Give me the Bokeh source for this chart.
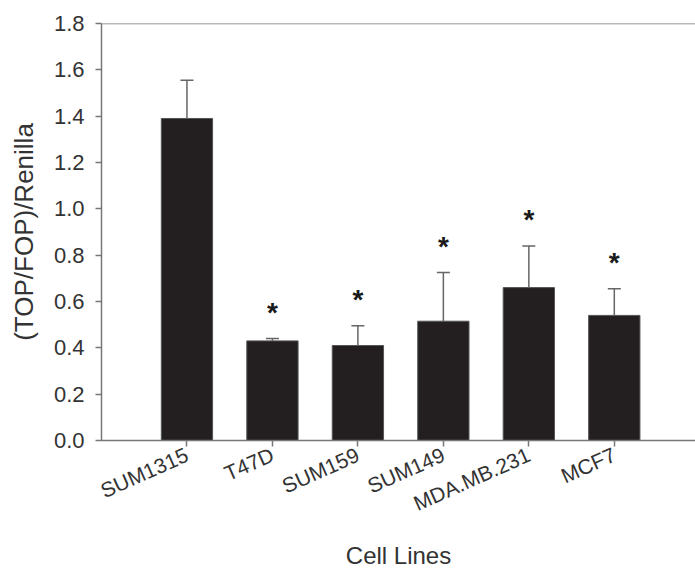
from bokeh.plotting import figure
from bokeh.models import (ColumnDataSource, Whisker, TeeHead, FixedTicker, Range1d,
                          NumeralTickFormatter, Span)
from bokeh.embed import file_html
from bokeh.resources import INLINE
from bokeh.core.properties import value

# ---- data ----
cell_lines = ["SUM1315", "T47D", "SUM159", "SUM149", "MDA.MB.231", "MCF7"]
means = [1.39, 0.43, 0.41, 0.515, 0.66, 0.54]
errors = [0.165, 0.01, 0.085, 0.21, 0.18, 0.115]
significant = [False, True, True, True, True, True]
y_ticks = [0.0, 0.2, 0.4, 0.6, 0.8, 1.0, 1.2, 1.4, 1.6, 1.8]

xs = list(range(1, len(cell_lines) + 1))
upper = [m + e for m, e in zip(means, errors)]
src = ColumnDataSource(dict(x=xs, top=means, upper=upper, label=cell_lines))

sig_x = [x for x, s in zip(xs, significant) if s]
sig_y = [u for u, s in zip(upper, significant) if s]
star_src = ColumnDataSource(dict(x=sig_x, y=sig_y, t=["*"] * len(sig_x)))

FONT = "Liberation Sans"
TXT = "#333333"
AX = "#777777"

p = figure(width=695, height=572, x_range=Range1d(0, 6.95), y_range=Range1d(0, 1.8),
           output_backend="svg", toolbar_location=None,
           min_border_left=101, min_border_right=0, min_border_top=23, min_border_bottom=132)
p.outline_line_color = None
p.grid.visible = False
p.background_fill_color = "white"

p.vbar(x="x", top="top", bottom=0, width=0.6, source=src,
       fill_color="#231f20", line_color="#555555", line_width=1)

wh = Whisker(source=src, base="x", lower="top", upper="upper",
             line_color="#666666", line_width=1.5,
             upper_head=TeeHead(size=13, line_color="#666666", line_width=1.5),
             lower_head=None, level="overlay")
p.add_layout(wh)

p.text(x="x", y="y", text="t", source=star_src, text_align="center",
       text_baseline="alphabetic", y_offset=-26,
       text_font=value(FONT), text_font_style="bold", text_font_size="28px",
       text_color="#1a1a1a")

# top frame line
p.add_layout(Span(location=1.8, dimension="width", line_color=AX, line_width=1.5))

# y axis
ya = p.yaxis[0]
ya.ticker = FixedTicker(ticks=y_ticks)
ya.formatter = NumeralTickFormatter(format="0.0")
ya.axis_label = "(TOP/FOP)/Renilla"
ya.axis_label_text_font = FONT
ya.axis_label_text_font_style = "normal"
ya.axis_label_text_font_size = "26px"
ya.axis_label_text_color = TXT
ya.axis_label_standoff = 12
ya.major_label_text_font = FONT
ya.major_label_text_font_size = "22px"
ya.major_label_text_color = TXT
ya.major_label_standoff = 11
ya.major_tick_in = 0
ya.major_tick_out = 6
ya.minor_tick_line_color = None
ya.axis_line_color = AX
ya.axis_line_width = 1.5
ya.major_tick_line_color = AX
ya.major_tick_line_width = 1.5

# x axis
xa = p.xaxis[0]
xa.ticker = FixedTicker(ticks=xs)
xa.major_label_overrides = {x: l for x, l in zip(xs, cell_lines)}
xa.major_label_orientation = 0.42
xa.axis_label = "Cell Lines"
xa.axis_label_text_font = FONT
xa.axis_label_text_font_style = "normal"
xa.axis_label_text_font_size = "24px"
xa.axis_label_text_color = TXT
xa.axis_label_standoff = 14
xa.major_label_text_font = FONT
xa.major_label_text_font_size = "21px"
xa.major_label_text_color = TXT
xa.major_label_standoff = 7
xa.major_tick_in = 0
xa.major_tick_out = 6
xa.minor_tick_line_color = None
xa.axis_line_color = AX
xa.axis_line_width = 1.5
xa.major_tick_line_color = AX
xa.major_tick_line_width = 1.5

open("out.html", "w").write(file_html(p, INLINE))
